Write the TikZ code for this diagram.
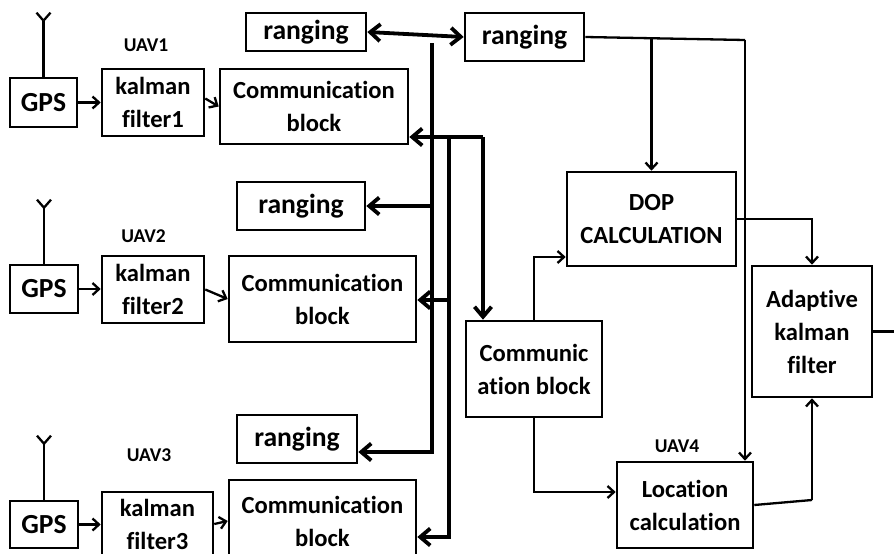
\documentclass[tikz,border=0pt]{standalone}
\usepackage{fontspec}
\setmainfont{Carlito}[Ligatures=NoCommon]
\usetikzlibrary{arrows.meta,calc}

\begin{document}
\begin{tikzpicture}[x=1pt,y=-1pt,
  box/.style={draw, line width=2.6pt, align=center, inner sep=0pt,
    font=\fontsize{24.6}{33}\selectfont\bfseries},
  bigbox/.style={box, font=\fontsize{27.6}{33}\selectfont\bfseries},
  uav/.style={font=\fontsize{19.5}{21}\selectfont\bfseries},
  link/.style={line width=2.3pt, -{Straight Barb[length=6.5pt,width=12pt,line width=2.3pt]}},
  plain/.style={line width=2.3pt},
  bus/.style={line width=3.8pt, -{Straight Barb[length=10pt,width=17pt,line width=3.8pt]}},
  aerial/.style={line width=2.3pt}]

\useasboundingbox (0,0) rectangle (894,554);

% ---------- UAV1 ----------
\node[bigbox, minimum width=67pt, minimum height=49pt] (gps1) at (43.5,102.5) {GPS};
\node[box, minimum width=102pt, minimum height=67pt] (kf1) at (153,102.5) {kalman\\filter1};
\node[box, minimum width=188pt, minimum height=75pt] (comm1) at (314,106.5) {Communication\\block};
\node[bigbox, minimum width=120pt, minimum height=38pt] (rg1) at (306,32) {ranging};
\node[uav] (uav1) at (146,45) {UAV1};

% ---------- UAV2 ----------
\node[bigbox, minimum width=68pt, minimum height=48pt] (gps2) at (44,289) {GPS};
\node[box, minimum width=102pt, minimum height=67pt] (kf2) at (153,289.5) {kalman\\filter2};
\node[box, minimum width=187pt, minimum height=86pt] (comm2) at (322.5,299) {Communication\\block};
\node[bigbox, minimum width=128pt, minimum height=48pt] (rg2) at (301,206) {ranging};
\node[uav] (uav2) at (143.5,236) {UAV2};

% ---------- UAV3 ----------
\node[bigbox, minimum width=68pt, minimum height=47pt] (gps3) at (44,524.5) {GPS};
\node[box, minimum width=111pt, minimum height=64pt] (kf3) at (157.5,524) {kalman\\filter3};
\node[box, minimum width=187pt, minimum height=82pt] (comm3) at (322.5,521) {Communication\\block};
\node[bigbox, minimum width=120pt, minimum height=48pt] (rg3) at (297,439) {ranging};
\node[uav] (uav3) at (149,455) {UAV3};

% ---------- UAV4 ----------
\node[bigbox, minimum width=119pt, minimum height=48pt] (rgT) at (524.5,37) {ranging};
\node[box, minimum width=169pt, minimum height=94pt] (dop) at (651.5,219) {DOP\\CALCULATION};
\node[box, minimum width=120pt, minimum height=131pt] (akf) at (812,331.5) {Adaptive\\kalman\\filter};
\node[box, minimum width=136pt, minimum height=96pt] (commC) at (534,369) {Communic\\ation block};
\node[box, minimum width=136pt, minimum height=86pt] (loc) at (685,505) {Location\\calculation};
\node[uav] (uav4) at (677,446) {UAV4};

% ---------- antennas ----------
\foreach \g in {gps1,gps2,gps3} {
  \draw[aerial] (\g.north) -- ++(0,-56) coordinate (\g top);
  \draw[aerial] (\g top) -- ++(-7,-8);
  \draw[aerial] (\g top) -- ++(7,-8);
}

% ---------- local chains ----------
\draw[link] (gps1.east) -- (kf1.west |- gps1.east);
\draw[link] ($(kf1.east)+(0,-4)$) -- (comm1.west);
\draw[link] (gps2.east) -- (kf2.west |- gps2.east);
\draw[link] (kf2.east) -- (comm2.west);
\draw[link] (gps3.east) -- (kf3.west |- gps3.east);
\draw[link] (kf3.east) -- (comm3.west);

% ---------- ranging bus ----------
\draw[line width=3.8pt, {Straight Barb[length=10pt,width=17pt,line width=3.8pt]}-{Straight Barb[length=10pt,width=17pt,line width=3.8pt]}]
  (rg1.east) -- (rgT.west);
\coordinate (a1) at (432,43);
\coordinate (a2) at (432,452);
\draw[bus] (a1) -- (a2) -- (a2 -| rg3.east);
\draw[bus] (rg2.east -| a1) -- (rg2.east);

% ---------- communication bus ----------
\coordinate (b1) at (449,137);
\coordinate (b2) at (449,537);
\coordinate (c1) at (483,137);
\draw[bus] (c1) -- (c1 -| comm1.east);
\draw[bus] (c1) -- (commC.north -| c1);
\draw[bus] (b1) -- (b2) -- (b2 -| comm3.east);
\draw[bus] (b1 |- 0,300) -- (comm2.east |- 0,300);

% ---------- UAV4 processing ----------
\coordinate (r1) at (745,40);
\draw[plain] (rgT.east) -- (r1);
\draw[link] (r1) -- (r1 |- loc.north);
\draw[link] (dop.north |- 0,38) -- (dop.north);
\draw[link] (dop.east) -| (akf.north);
\coordinate (l1) at (812,500);
\draw[plain] (loc.east) -- (l1);
\draw[link] (l1) -- (akf.south);
\draw[link] (commC.north) |- ($(dop.west)+(0,38)$);
\draw[link] (commC.south) |- ($(loc.west)+(0,-13)$);
\draw[link] (akf.east) -- ++(30,0);
\end{tikzpicture}
\end{document}
